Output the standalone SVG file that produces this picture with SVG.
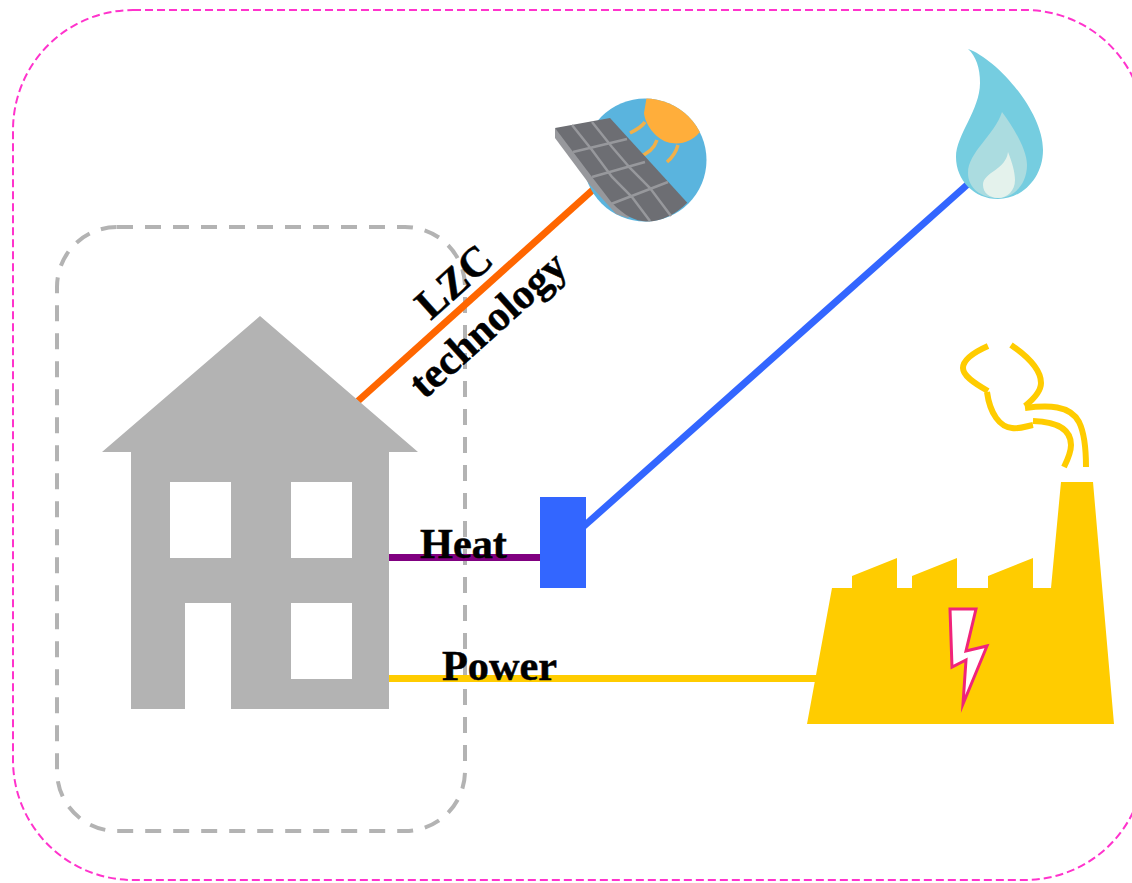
<svg xmlns="http://www.w3.org/2000/svg" width="1132" height="883" viewBox="0 0 1132 883">
<style>
.lbl{font-family:"Liberation Serif","Times New Roman",serif;font-weight:bold;font-size:42.3px;fill:#000;stroke:#000;stroke-width:.5}
.smoke{fill:none;stroke:#FFCC00;stroke-width:6}
.conn{fill:none;stroke-width:7}
.grid{fill:none;stroke:#97989C;stroke-width:2.500}
.ray{fill:none;stroke:#F0B04A;stroke-width:3.500}
</style>
<defs><clipPath id="disc"><circle cx="645" cy="160" r="61.5"/></clipPath></defs>
<rect width="1132" height="883" fill="#fff"/>
<rect id="outer-boundary" x="13" y="10" width="1132" height="870" rx="120" ry="120" fill="none" stroke="#FF33CC" stroke-width="2" stroke-dasharray="8 4"/>
<rect id="building-boundary" x="57" y="227" width="408" height="604" rx="60" ry="60" fill="none" stroke="#B3B3B3" stroke-width="4" stroke-dasharray="16 12"/>
<g id="connectors">
<path class="conn" stroke="#FF6600" d="M358 401L596 187"/>
<path class="conn" stroke="#3366FF" d="M583 527L968 184"/>
<path class="conn" stroke="#800080" d="M389 557.500H540"/>
<path class="conn" stroke="#FFCC00" d="M389 678.500H816"/>
</g>
<g id="house">
<path fill="#B3B3B3" fill-rule="evenodd" d="M260 316L418 452H389V709H231V603H185V709H131V452H102ZM170 482V558H231V482ZM291 482V558H352V482ZM291 603V679H352V603Z"/>
</g>
<g id="heat-unit"><rect x="540" y="497" width="46" height="91" fill="#3366FF"/></g>
<g id="solar">
<circle cx="645" cy="160" r="61.500" fill="#5AB4DE"/>
<g clip-path="url(#disc)">
<path fill="#FFAE3B" d="M647 95L644 113C645 124 655 138 667 142C680 146 692 141 699 133L712 125L700 90Z"/>
</g>
<path class="ray" d="M645 122C642 127 636 130 630 133M657 140C654 149 648 154 638 157M678 145C676 152 673 157 667 162"/>
<path fill="#97989C" d="M555 128V138L590 185L616 214L628 218L640 205Z"/>
<path fill="#6D6E73" d="M555 128L610 118L687.300 202.700C675 215 660 222 646 221.500C635 221 625 216 612 203L592 177Z"/>
<path class="grid" d="M572 125L592 150L612 177L632 197L650 221M592 122L612 147L630 168L650 188L671 216M573 152L627 139M592 177L645 162M611 204L668 182"/>
</g>
<g id="flame">
<path fill="#75CDE0" d="M968 49C995 58 1043 110 1043 150C1043 178 1022 199 998 199C974 199 956 180 956 157C956 135 980 110 980 83C980 68 976 56 968 49Z"/>
<path fill="#ABDCE0" d="M1002 112C1014 128 1027 150 1027 165C1027 184 1014 198 998 198C981 198 968 188 968 173C968 152 994 136 1002 112Z"/>
<path fill="#E4F2EC" d="M1008 152C1012 162 1015 172 1015 180C1015 191 1007 198 998 198C990 198 983 193 983 185C983 172 1006 170 1008 152Z"/>
</g>
<g id="factory">
<path fill="#FFCC00" d="M807 724L832 588H852V576L897 558V588H912V576L957 558V588H988V576L1033 558V588H1051L1061 482H1093L1114 724Z"/>
<path fill="#fff" stroke="#F0247A" stroke-width="3" stroke-miterlimit="12" d="M950 609H976L966 651L987 646L963 704L966 660L952 667Z"/>
<path class="smoke" d="M988 346C970 354 963 361 963 368C963 375 972 382 988 391"/>
<path class="smoke" d="M987 392C990 414 1000 427 1012 428C1020 429 1027 426 1033 425"/>
<path class="smoke" d="M1033 421C1060 422 1071 431 1071 445C1071 452 1068 459 1064 467"/>
<path class="smoke" d="M1011 345C1030 358 1041 370 1041 383C1041 391 1035 398 1025 406"/>
<path class="smoke" d="M1025 408C1048 405 1070 405 1079 422C1085 434 1086 450 1086 467"/>
</g>
<g id="labels">
<text class="lbl" x="420" y="558">Heat</text>
<text class="lbl" x="442" y="680">Power</text>
<text class="lbl" text-anchor="middle" transform="translate(463 292) rotate(-41.900)">LZC</text>
<text class="lbl" text-anchor="middle" transform="translate(497 335) rotate(-41.900)">technology</text>
</g>
</svg>
